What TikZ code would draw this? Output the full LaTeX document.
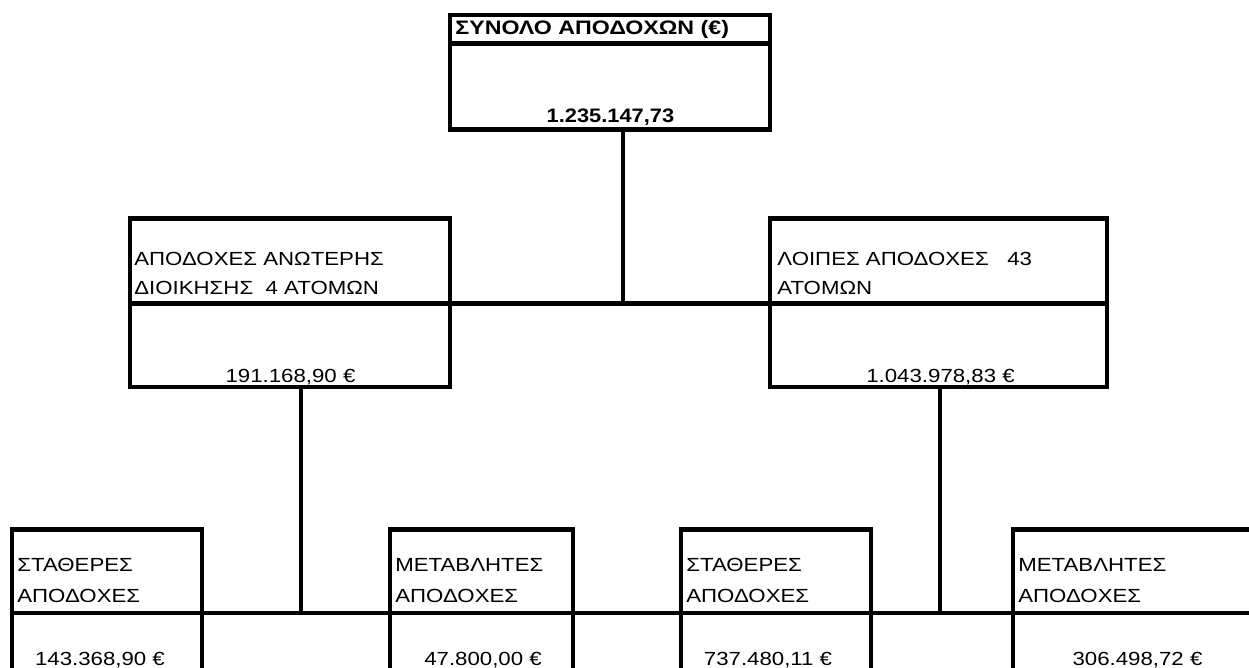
\documentclass[tikz,border=0pt]{standalone}
\usepackage{fontspec}
\setmainfont{Liberation Sans}
\newfontfamily\arn[FakeStretch=1.17]{Liberation Sans}
\newfontfamily\arb[FakeStretch=1.12]{Liberation Sans}
\newfontfamily\art[FakeStretch=1.19]{Liberation Sans}
\begin{document}
\begin{tikzpicture}[x=1pt,y=-1pt,line width=4.7pt,
  box/.style={draw,rectangle,outer sep=0pt,inner sep=0pt,anchor=north west},
  txt/.style={inner sep=0pt,font=\arn\fontsize{19}{22}\selectfont,anchor=base west},
  val/.style={inner sep=0pt,font=\arn\fontsize{19}{22}\selectfont,anchor=base},
  btxt/.style={inner sep=0pt,font=\art\bfseries\fontsize{19.5}{22}\selectfont,anchor=base west},
  bval/.style={inner sep=0pt,font=\arb\bfseries\fontsize{19.5}{22}\selectfont,anchor=base},
  conn/.style={draw,line width=4.7pt}]
\useasboundingbox (0,0) rectangle (1249,668);
\clip (0,0) rectangle (1249,668);
% top box
\node[box,minimum width=320pt,minimum height=28.5pt] (T1) at (450,15) {};
\node[box,minimum width=320pt,minimum height=86pt] (T2) at (450,43.5) {};
% middle boxes
\node[box,minimum width=320pt,minimum height=85pt] (MLh) at (130,218.5) {};
\node[box,minimum width=320pt,minimum height=83.5pt] (MLv) at (130,303.5) {};
\node[box,minimum width=337pt,minimum height=85pt] (MRh) at (770,218.5) {};
\node[box,minimum width=337pt,minimum height=83.5pt] (MRv) at (770,303.5) {};
% bottom boxes
\node[box,minimum width=190pt,minimum height=83.5pt] (B1h) at (12,529.5) {};
\node[box,minimum width=190pt,minimum height=80pt] (B1v) at (12,613) {};
\node[box,minimum width=183pt,minimum height=83.5pt] (B2h) at (390,529.5) {};
\node[box,minimum width=183pt,minimum height=80pt] (B2v) at (390,613) {};
\node[box,minimum width=190pt,minimum height=83.5pt] (B3h) at (681,529.5) {};
\node[box,minimum width=190pt,minimum height=80pt] (B3v) at (681,613) {};
\node[box,minimum width=260pt,minimum height=83.5pt] (B4h) at (1013,529.5) {};
\node[box,minimum width=260pt,minimum height=80pt] (B4v) at (1013,613) {};
% connectors
\coordinate (tj) at (623,129.5);
\coordinate (lj) at (301,387);
\coordinate (rj) at (940,387);
\draw[conn] (tj) -- (tj |- MLh.south);
\draw[conn] (MLh.south east) -- (MRh.south west);
\draw[conn] (lj) -- (lj |- B1h.south);
\draw[conn] (rj) -- (rj |- B3h.south);
\draw[conn] (B1h.south east) -- (B2h.south west);
\draw[conn] (B2h.south east) -- (B3h.south west);
\draw[conn] (B3h.south east) -- (B4h.south west);
% texts
\node[btxt] (tt) at (453,35) {ΣΥΝΟΛΟ ΑΠΟΔΟΧΩΝ (€)};
\node[bval] (tv) at (610.5,122.7) {1.235.147,73};
\node[txt] (ml1) at (132,265.5) {ΑΠΟΔΟΧΕΣ ΑΝΩΤΕΡΗΣ};
\node[txt] (ml2) at (132,294) {ΔΙΟΙΚΗΣΗΣ\ \ 4 ΑΤΟΜΩΝ};
\node[val] (mlval) at (290.5,382) {191.168,90 €};
\node[txt] (mr1) at (775,265.5) {ΛΟΙΠΕΣ ΑΠΟΔΟΧΕΣ\ \ \ 43};
\node[txt] (mr2) at (775,294) {ΑΤΟΜΩΝ};
\node[val] (mrval) at (940.5,382) {1.043.978,83 €};
\node[txt] (b11) at (15,571) {ΣΤΑΘΕΡΕΣ};
\node[txt] (b12) at (15,602) {ΑΠΟΔΟΧΕΣ};
\node[val] (b1val) at (100,665) {143.368,90 €};
\node[txt] (b21) at (393,571) {ΜΕΤΑΒΛΗΤΕΣ};
\node[txt] (b22) at (393,602) {ΑΠΟΔΟΧΕΣ};
\node[val] (b2val) at (483,665) {47.800,00 €};
\node[txt] (b31) at (684,571) {ΣΤΑΘΕΡΕΣ};
\node[txt] (b32) at (684,602) {ΑΠΟΔΟΧΕΣ};
\node[val] (b3val) at (768,665) {737.480,11 €};
\node[txt] (b41) at (1016,571) {ΜΕΤΑΒΛΗΤΕΣ};
\node[txt] (b42) at (1016,602) {ΑΠΟΔΟΧΕΣ};
\node[val] (b4val) at (1137.5,665) {306.498,72 €};
\end{tikzpicture}
\end{document}
